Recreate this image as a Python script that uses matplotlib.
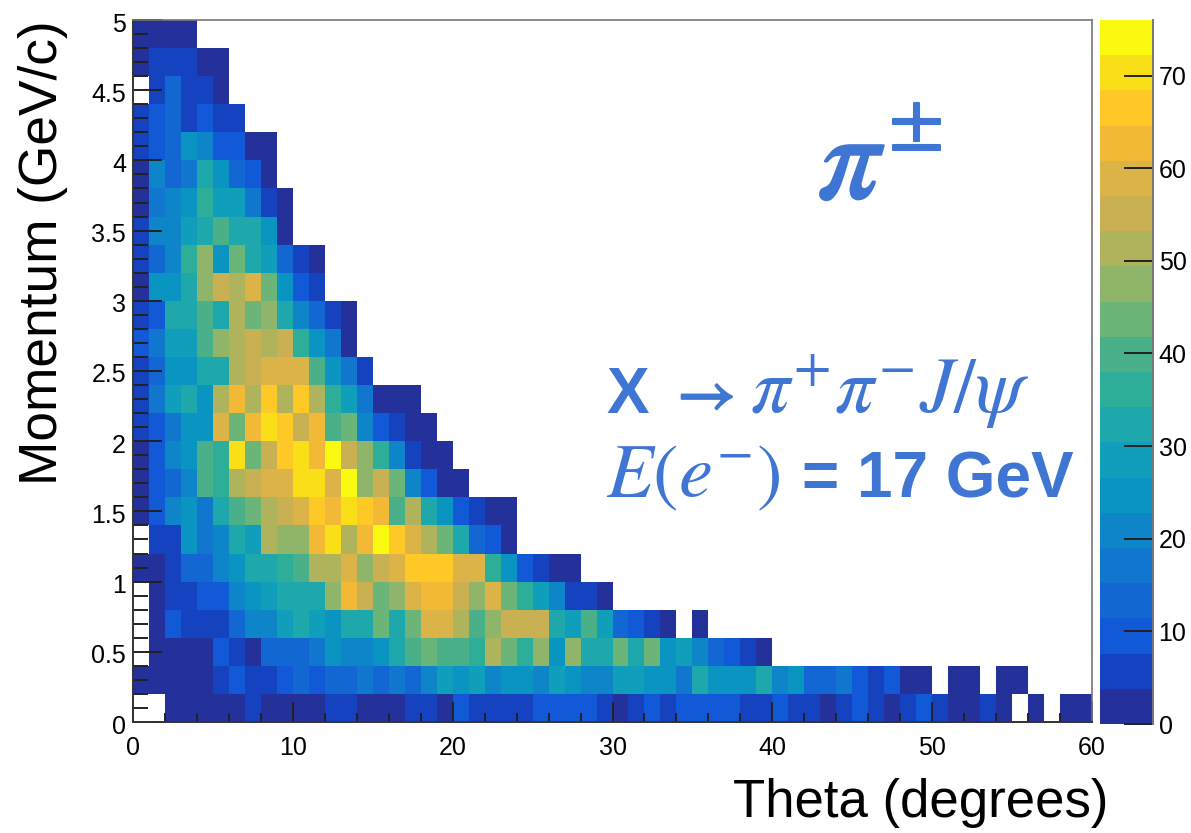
import numpy as np
import matplotlib
matplotlib.use("Agg")
import matplotlib.pyplot as plt
import matplotlib.patheffects as pe
from matplotlib.transforms import ScaledTranslation
from matplotlib.colors import ListedColormap, BoundaryNorm

plt.rcParams['font.family'] = ['Liberation Sans', 'DejaVu Sans']
plt.rcParams['mathtext.fontset'] = 'stix'

# counts per theta bin (1 degree), one list per momentum bin (0.2 GeV/c), 0 = empty
p_00 = [0,0,2,2,2,2,2,6,2,2,2,2,6,6,2,2,2,6,6,2,10,6,6,6,6,10,10,10,10,6,2,6,10,6,10,10,10,10,6,6,10,6,6,2,6,10,6,2,6,10,6,2,2,6,2,0,2,0,2,2]
p_02 = [2,2,2,2,2,6,10,6,6,10,13,10,13,13,17,13,17,13,21,28,25,28,21,25,25,21,28,25,21,21,28,28,25,25,17,32,25,25,25,32,21,25,13,13,17,10,6,10,2,2,0,2,2,0,2,2]
p_04 = [0,2,2,2,2,10,6,2,13,13,13,17,25,21,21,25,32,40,44,40,40,36,51,44,36,47,25,47,32,32,44,32,44,25,28,21,13,10,6,2]
p_06 = [0,2,10,6,6,6,13,21,21,28,32,28,25,32,32,44,32,44,59,59,51,40,47,55,55,55,32,28,40,28,13,10,6,2,0,2]
p_08 = [0,2,6,6,10,10,21,25,28,32,32,32,47,63,55,44,47,59,63,63,55,47,59,44,36,28,21,6,6,2]
p_10 = [2,2,6,13,13,21,25,32,32,36,40,51,51,59,47,55,59,66,66,66,59,59,36,25,10,6,2,2]
p_12 = [0,6,6,25,17,21,32,28,51,47,47,63,70,51,63,74,66,59,51,44,32,13,10,2]
p_14 = [2,10,21,25,17,32,40,44,51,55,59,66,63,70,66,63,40,51,32,25,10,6,2,2]
p_16 = [2,10,13,21,40,36,51,55,59,59,70,70,59,74,47,55,44,21,10,2,2]
p_18 = [2,10,21,25,40,36,70,44,55,66,70,63,74,55,47,36,21,6,2,2]
p_20 = [6,10,17,25,25,59,44,63,70,66,55,63,40,44,21,10,6,2,2]
p_22 = [6,17,28,32,25,51,63,51,66,51,66,51,36,28,17,2,2,2]
p_24 = [6,13,25,25,32,32,51,55,59,59,59,40,25,17,6]
p_26 = [10,17,28,28,40,47,51,55,51,55,36,25,17,2]
p_28 = [6,10,32,32,40,32,51,44,47,32,21,13,6,2]
p_30 = [2,25,25,32,47,55,51,59,44,25,10,6]
p_32 = [6,13,21,36,47,25,44,32,28,13,6,2]
p_34 = [6,21,21,28,32,40,32,32,25,2]
p_36 = [2,17,21,25,36,28,28,17,6,2]
p_38 = [2,21,13,17,32,25,13,10,2]
p_40 = [6,10,13,25,21,10,10,2,2]
p_42 = [6,10,13,6,10,6,6]
p_44 = [0,6,13,6,6,2]
p_46 = [2,6,6,6,2,2]
p_48 = [2,2,2,2]

rows = [p_00,p_02,p_04,p_06,p_08,p_10,p_12,p_14,p_16,p_18,p_20,p_22,p_24,
        p_26,p_28,p_30,p_32,p_34,p_36,p_38,p_40,p_42,p_44,p_46,p_48]

palette = ['#24319a','#1543c0','#1259d8','#1267d2','#1176cd','#0e85c8','#0a94c2',
           '#0f9fbb','#1ea8ac','#2cae98','#49b08a','#6ab577','#8eb56a','#aeb35c',
           '#c8b053','#dcb346','#f1b936','#fec926','#f9de18','#f9fa10']
z_max = 76
cbar_ticks = [0,10,20,30,40,50,60,70]
y_ticks = [0,0.5,1,1.5,2,2.5,3,3.5,4,4.5,5]
y_labels = ['0','0.5','1','1.5','2','2.5','3','3.5','4','4.5','5']
x_ticks = [0,10,20,30,40,50,60]

grid = np.zeros((25,60))
for i,row in enumerate(rows):
    grid[i,:len(row)] = row
grid = np.ma.masked_equal(grid,0)

W,H = 1191,833
fig = plt.figure(figsize=(W/100,H/100),dpi=100)
ax = fig.add_axes([133/W,1-722/H,959/W,702/H])
cax = fig.add_axes([1100/W,1-724/H,53/W,704/H])

cmap = ListedColormap(palette)
norm = BoundaryNorm(np.linspace(0,z_max,21),20)
mesh = ax.pcolormesh(np.arange(61),np.linspace(0,5,26),grid,cmap=cmap,norm=norm,
                     linewidth=0,rasterized=True)
ax.set_xlim(0,60)
ax.set_ylim(0,5)

ax.set_xticks(x_ticks)
ax.set_xticks(np.arange(0,61,2),minor=True)
ax.set_yticks(y_ticks)
ax.set_yticklabels(y_labels)
ax.set_yticks(np.arange(0,5.01,0.1),minor=True)
ax.tick_params(axis='x',which='major',direction='in',length=14.5,width=1.4,labelsize=18,pad=10,color='#222222')
ax.tick_params(axis='x',which='minor',direction='in',length=6.5,width=1.4,color='#222222')
ax.tick_params(axis='y',which='major',direction='in',length=21,width=1.4,labelsize=18,pad=5,color='#222222')
ax.tick_params(axis='y',which='minor',direction='in',length=10.5,width=1.4,color='#222222')
for lab in ax.get_yticklabels():
    lab.set_transform(lab.get_transform()+ScaledTranslation(0,-2/100,fig.dpi_scale_trans))
for s in ['top','right']:
    ax.spines[s].set_color('#777777')
    ax.spines[s].set_linewidth(1.2)
for s in ['left','bottom']:
    ax.spines[s].set_color('#333333')
    ax.spines[s].set_linewidth(1.4)

cb = fig.colorbar(mesh,cax=cax,spacing='proportional',ticks=cbar_ticks,drawedges=False)
cb.ax.minorticks_off()
cb.ax.tick_params(direction='in',length=21,width=1.4,labelsize=18,pad=4,color='#222222')
cb.outline.set_visible(False)
cb.ax.axvline(1,color='#777777',linewidth=1.4,clip_on=False)

blue = '#3f75d3'
fig.text(733/W,1-817/H,'Theta (degrees)',fontsize=38,color='black',ha='left',va='baseline')
fig.text(68/W,1-253/H,'Momentum (GeV/c)',fontsize=38.3,color='black',rotation=90,ha='right',va='center')

pi_big = fig.text(818/W,1-198/H,r'$\pi$',fontsize=88,color=blue,ha='left',va='baseline')
pi_big.set_path_effects([pe.withStroke(linewidth=1.8,foreground=blue)])
pm = fig.text(889/W,1-144/H,r'$\pm$',fontsize=58,color=blue,ha='left',va='baseline')
pm.set_path_effects([pe.withStroke(linewidth=1.5,foreground=blue)])

fig.text(606/W,1-413/H,'X',fontsize=46,color=blue,fontweight='bold',ha='left',va='baseline')
arrow = fig.text(668/W,1-413/H,r'$\rightarrow$',fontsize=46,color=blue,ha='left',va='baseline')
arrow.set_path_effects([pe.withStroke(linewidth=1.5,foreground=blue)])
fig.text(750/W,1-413/H,r'$\pi^{+}\pi^{-}J/\psi$',fontsize=56,color=blue,ha='left',va='baseline')
fig.text(606/W,1-497/H,r'$E(e^{-})$',fontsize=55,color=blue,ha='left',va='baseline')
fig.text(802/W,1-497/H,'= 17 GeV',fontsize=46,color=blue,fontweight='bold',ha='left',va='baseline')

fig.savefig('out.png',dpi=100,facecolor='white')
